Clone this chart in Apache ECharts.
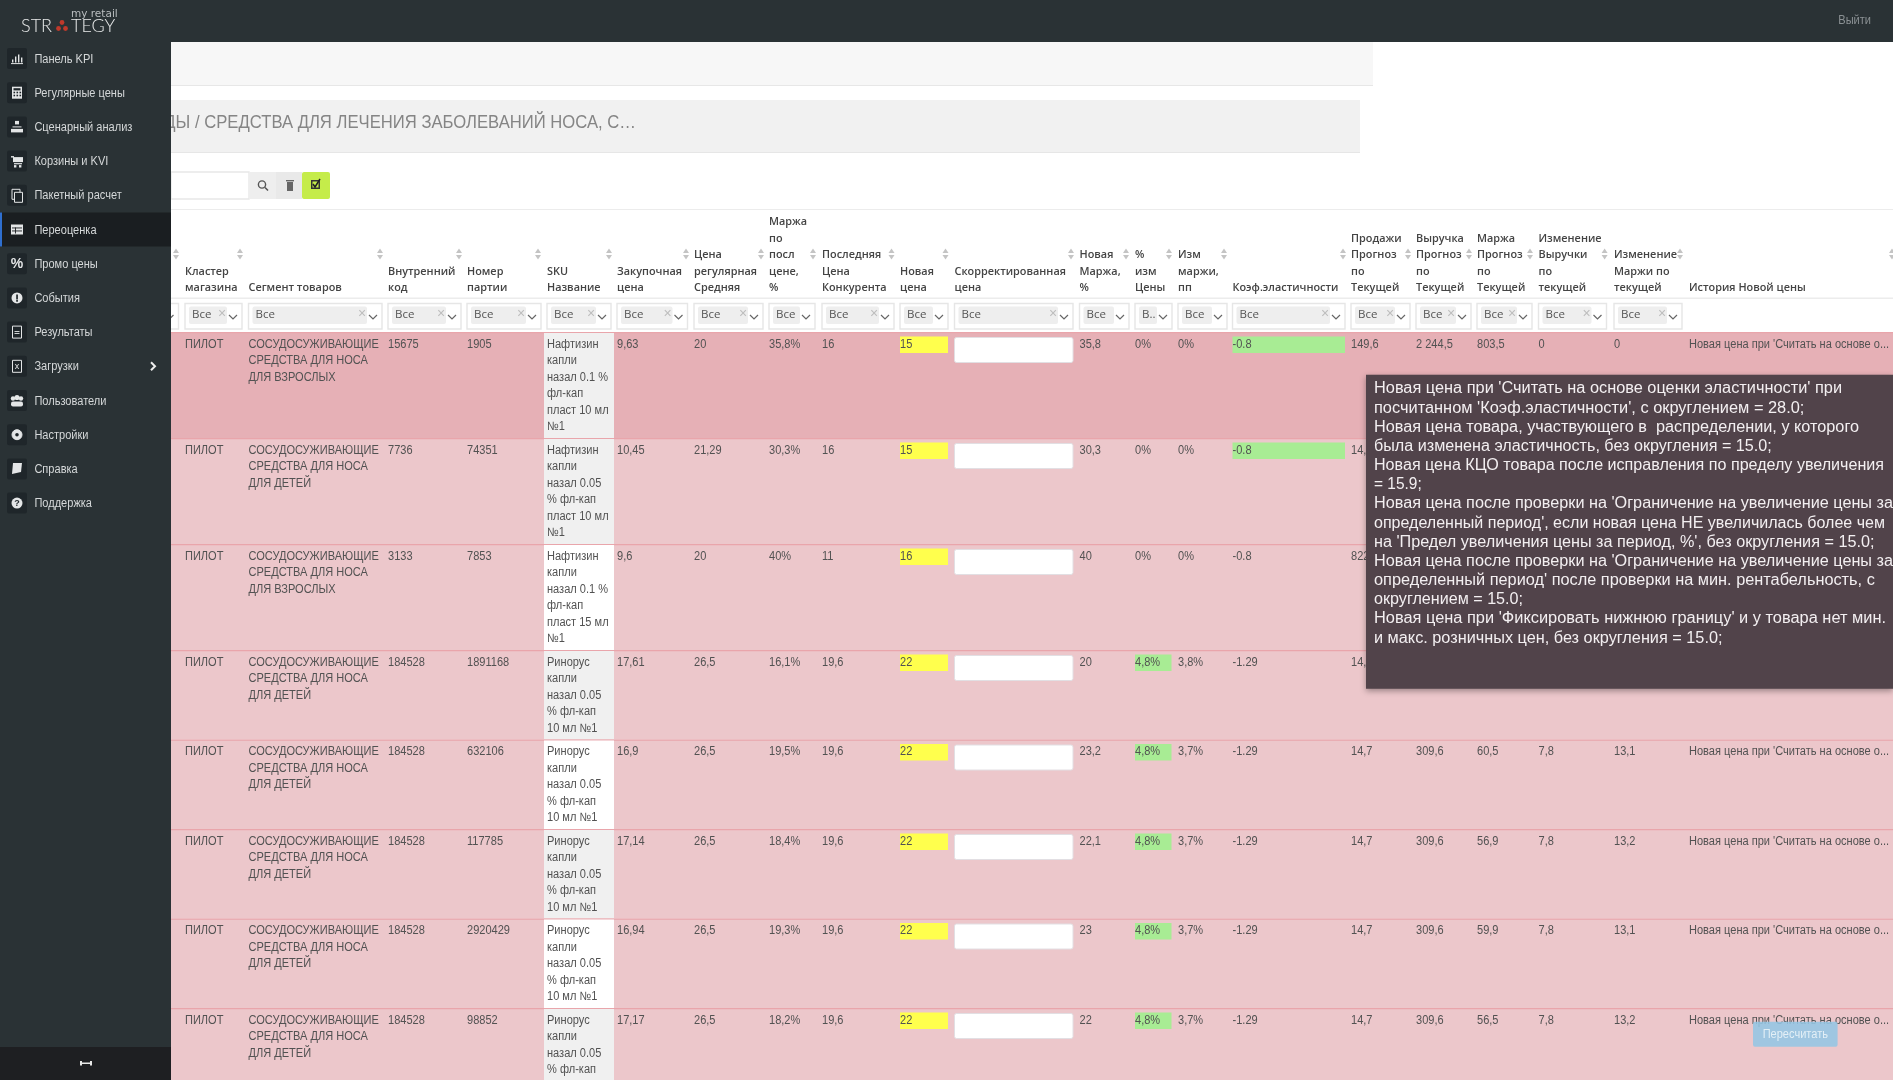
<!DOCTYPE html>
<html><head><meta charset="utf-8">
<style>html,body{margin:0;padding:0;background:#fff;overflow:hidden}#c{width:1893px;height:1080px}</style>
<script src="https://cdn.jsdelivr.net/npm/echarts@6/dist/echarts.min.js"></script>
</head><body><div id="c"></div>
<script>
// ---- table content ----
const cluster = ['ПИЛОТ','ПИЛОТ','ПИЛОТ','ПИЛОТ','ПИЛОТ','ПИЛОТ','ПИЛОТ','ПИЛОТ'];
const segKids = 'СОСУДОСУЖИВАЮЩИЕ\nСРЕДСТВА ДЛЯ НОСА\nДЛЯ ДЕТЕЙ';
const segAdult = 'СОСУДОСУЖИВАЮЩИЕ\nСРЕДСТВА ДЛЯ НОСА\nДЛЯ ВЗРОСЛЫХ';
const segment = [segAdult,segKids,segAdult,segKids,segKids,segKids,segKids,segKids];
const internalCode = ['15675','7736','3133','184528','184528','184528','184528','184528'];
const batchNo = ['1905','74351','7853','1891168','632106','117785','2920429','98852'];
const rinorus = 'Ринорус\nкапли\nназал 0.05\n% фл-кап\n10 мл №1';
const skuName = ['Нафтизин\nкапли\nназал 0.1 %\nфл-кап\nпласт 10 мл\n№1','Нафтизин\nкапли\nназал 0.05\n% фл-кап\nпласт 10 мл\n№1','Нафтизин\nкапли\nназал 0.1 %\nфл-кап\nпласт 15 мл\n№1',rinorus,rinorus,rinorus,rinorus,rinorus];
const purchasePrice = ['9,63','10,45','9,6','17,61','16,9','17,14','16,94','17,17'];
const regularPrice = ['20','21,29','20','26,5','26,5','26,5','26,5','26,5'];
const lastMargin = ['35,8%','30,3%','40%','16,1%','19,5%','18,4%','19,3%','18,2%'];
const competitorPrice = ['16','16','11','19,6','19,6','19,6','19,6','19,6'];
const newPrice = ['15','15','16','22','22','22','22','22'];
const newMargin = ['35,8','30,3','40','20','23,2','22,1','23','22'];
const priceChange = ['0%','0%','0%','4,8%','4,8%','4,8%','4,8%','4,8%'];
const marginChange = ['0%','0%','0%','3,8%','3,7%','3,7%','3,7%','3,7%'];
const elasticity = ['-0.8','-0.8','-0.8','-1.29','-1.29','-1.29','-1.29','-1.29'];
const salesForecast = ['149,6','14,7','822,5','14,7','14,7','14,7','14,7','14,7'];
const revenueForecast = ['2 244,5','','','','309,6','309,6','309,6','309,6'];
const marginForecast = ['803,5','','','','60,5','56,9','59,9','56,5'];
const revenueDelta = ['0','','','','7,8','7,8','7,8','7,8'];
const marginDelta = ['0','','','','13,1','13,2','13,1','13,2'];
const historyText = "Новая цена при 'Считать на основе о...";
const history = [historyText,'','','',historyText,historyText,historyText,historyText];
const skuLines = [6,6,6,5,5,5,5,5];
const skuShaded = [1,1,0,1,0,1,0,1];
const elasticGreen = [1,1,0,0,0,0,0,0];
const priceGreen = [0,0,0,1,1,1,1,1];
const headers = ['','Кластер\nмагазина','Сегмент товаров','Внутренний\nкод','Номер\nпартии','SKU\nНазвание','Закупочная\nцена','Цена\nрегулярная\nСредняя','Маржа\nпо\nпосл\nцене,\n%','Последняя\nЦена\nКонкурента','Новая\nцена','Скорректированная\nцена','Новая\nМаржа,\n%','%\nизм\nЦены','Изм\nмаржи,\nпп','Коэф.эластичности','Продажи\nПрогноз\nпо\nТекущей','Выручка\nПрогноз\nпо\nТекущей','Маржа\nПрогноз\nпо\nТекущей','Изменение\nВыручки\nпо\nтекущей','Изменение\nМаржи по\nтекущей','История Новой цены'];
const filterLabels = ['','Все','Все','Все','Все','Все','Все','Все','Все','Все','Все','Все','Все','В..','Все','Все','Все','Все','Все','Все','Все',''];
const menu = ['Панель KPI','Регулярные цены','Сценарный анализ','Корзины и KVI','Пакетный расчет','Переоценка','Промо цены','События','Результаты','Загрузки','Пользователи','Настройки','Справка','Поддержка'];
const tooltipLines = ["Новая цена при 'Считать на основе оценки эластичности' при","посчитанном 'Коэф.эластичности', с округлением = 28.0;","Новая цена товара, участвующего в  распределении, у которого","была изменена эластичность, без округления = 15.0;","Новая цена КЦО товара после исправления по пределу увеличения","= 15.9;","Новая цена после проверки на 'Ограничение на увеличение цены за","определенный период', если новая цена НЕ увеличилась более чем","на 'Предел увеличения цены за период, %', без округления = 15.0;","Новая цена после проверки на 'Ограничение на увеличение цены за","определенный период' после проверки на мин. рентабельность, с","округлением = 15.0;","Новая цена при 'Фиксировать нижнюю границу' и у товара нет мин.","и макс. розничных цен, без округления = 15.0;"];
const breadcrumb = 'ДЫ / СРЕДСТВА ДЛЯ ЛЕЧЕНИЯ ЗАБОЛЕВАНИЙ НОСА, С…';

// ---- layout ----
const tooltipWidths = [468,430.4,485,397.7,510,47.7,519,511,500.4,519,500.8,149,512,348.5];
const colLeft  = [150,185,248.5,388,467,547,617,694,769,822,900,954.5,1079.5,1135,1178,1232.5,1351,1416,1477,1538.5,1614,1689];
const colRight = [178.5,242,382,461,541,611,687.5,763,815,894,948,1073,1129,1172,1227,1345,1410,1471,1532,1606.5,1682,1893];
const sortX = [176,240,380,459,538,609,686,761,813,891.5,945.5,1071,1126,1169,1224,1343,1408,1469,1530,1604.6,1680,1892];
const rowTop = []; { let t = 332; skuLines.forEach(n => { rowTop.push(t); t += n * 16.5 + 7; }); }
const rowH = skuLines.map(n => n * 16.5 + 7);
const textColumns = [[1,cluster],[2,segment],[3,internalCode],[4,batchNo],[5,skuName],[6,purchasePrice],[7,regularPrice],[8,lastMargin],[9,competitorPrice],[10,newPrice],[12,newMargin],[13,priceChange],[14,marginChange],[15,elasticity],[16,salesForecast],[17,revenueForecast],[18,marginForecast],[19,revenueDelta],[20,marginDelta],[21,history]];
const FONT = '"Liberation Sans",Arial,sans-serif';
const cellFont = '12px ' + FONT, headFont = '600 11.5px "Open Sans",' + FONT;
const SIDE = 171;

// row bands + cell fills
const rowSeries = {type:'custom',coordinateSystem:'cartesian2d',z:2,silent:true,clip:false,encode:{x:0,y:1},
 data:rowTop.map((t,i)=>[0,i]),
 renderItem(p,api){
  const r=api.value(1), c=[];
  const R=(a,b,x2,y2,fill,extra)=>{const A=api.coord([a,b]),B=api.coord([x2,y2]);c.push(Object.assign({type:'rect',shape:{x:A[0],y:A[1],width:B[0]-A[0],height:B[1]-A[1],r:(extra&&extra.r)||0},style:{fill,stroke:extra&&extra.stroke,lineWidth:extra&&extra.lw}}));};
  const t=rowTop[r],h=rowH[r];
  R(0,t,1893,t+h,r===0?'#e6b0b6':'#ecc7cb');
  R(0,t,1893,t+1.2,'#e9a5ab');
  R(544,t+1,614,t+h,skuShaded[r]?'#f0f0f0':'#ffffff');
  R(colLeft[10],t+4.5,colRight[10],t+21,'#ffff4d');
  R(colLeft[11],t+5.5,colRight[11],t+30.5,'#ffffff',{r:2,stroke:'#e2dfe3',lw:1});
  if(elasticGreen[r])R(colLeft[15],t+4.5,colRight[15],t+21,'#a8ec94');
  if(priceGreen[r])R(colLeft[13],t+4.5,1171.5,t+21,'#a8ec94');
  return {type:'group',children:c};
 }};

// cell texts
const cellData=[];textColumns.forEach(([c,v])=>v.forEach((s,r)=>{if(s)cellData.push([c,r,s]);}));
const cellSeries = {type:'custom',coordinateSystem:'cartesian2d',z:3,silent:true,clip:false,encode:{x:0,y:1},
 data:cellData,
 renderItem(p,api){
  const c=api.value(0),r=api.value(1);
  const P=api.coord([colLeft[c],rowTop[r]+4.3]);
  return {type:'text',x:P[0],y:P[1],scaleX:0.92,style:{x:0,y:0,text:cellData[p.dataIndex][2],font:cellFont,fill:'#525252',align:'left',verticalAlign:'top',lineHeight:16.5}};
 }};

// header + filter row
const headSeries = {type:'custom',coordinateSystem:'cartesian2d',z:3,silent:true,clip:false,encode:{x:0,y:1},
 data:headers.map((h,i)=>[i,0]),
 renderItem(p,api){
  const i=api.value(0),c=[];
  const L=colLeft[i],Rr=colRight[i],lines=headers[i]?headers[i].split('\n'):[];
  lines.forEach((s,k)=>{const P=api.coord([L,288-(lines.length-1-k)*16.5]);c.push({type:'text',x:P[0],y:P[1],scaleX:0.945,style:{x:0,y:0,text:s,font:headFont,fill:'#444',align:'left',verticalAlign:'middle'}});});
  const S=api.coord([sortX[i],254]);
  c.push({type:'polygon',shape:{points:[[S[0]-3,S[1]-1],[S[0]+3,S[1]-1],[S[0],S[1]-5.5]]},style:{fill:'#c4c4c4'}});
  c.push({type:'polygon',shape:{points:[[S[0]-3,S[1]+1],[S[0]+3,S[1]+1],[S[0],S[1]+5.5]]},style:{fill:'#c4c4c4'}});
  if(filterLabels[i]||i===0){
   const A=api.coord([L,303.5]),B=api.coord([Rr,329]);
   c.push({type:'rect',shape:{x:A[0],y:A[1],width:B[0]-A[0],height:B[1]-A[1]},style:{fill:'#fff',stroke:'#e6e6e6',lineWidth:1.4}});
   c.push({type:'rect',shape:{x:A[0]+4,y:A[1]+3,width:B[0]-A[0]-19,height:17.5,r:2},style:{fill:'#eeeeee'}});
   c.push({type:'text',style:{x:A[0]+7,y:A[1]+11,text:filterLabels[i],font:'11.5px "Open Sans",'+FONT,fill:'#555',align:'left',verticalAlign:'middle'}});
   if(B[0]-A[0]>=55)c.push({type:'text',style:{x:B[0]-20,y:A[1]+10.5,text:'×',font:'14px '+FONT,fill:'#bdbdbd',align:'center',verticalAlign:'middle'}});
   c.push({type:'polyline',shape:{points:[[B[0]-13,A[1]+11.5],[B[0]-9,A[1]+15.5],[B[0]-5,A[1]+11.5]]},style:{fill:'none',stroke:'#666',lineWidth:1.2}});
  }
  return {type:'group',children:c};
 }};

// ---- page chrome ----
const back=[],front=[];
const rect=(a,x,y,w,h,fill,extra)=>a.push({type:'rect',shape:{x,y,width:w,height:h,r:(extra&&extra.r)||0},style:Object.assign({fill},extra&&extra.style||{}),z:a===front?50:0,silent:true});
const text=(a,x,y,t,font,fill,align,sx)=>a.push({type:'text',x,y,scaleX:sx||1,style:{x:0,y:0,text:t,font,fill,align:align||'left',verticalAlign:'middle'},z:a===front?51:1,silent:true});
rect(back,171,42,1202,43,'#f7f7f7');rect(back,171,85,1202,1,'#e7e7e7');
rect(back,171,100,1189,52,'#f1f1f1');rect(back,171,152,1189,1,'#e6e6e6');
text(back,636,123,breadcrumb,'18px '+FONT,'#858585','right',0.925);
rect(back,171,172,78,27,'#fff',{style:{stroke:'#e8e8e8',lineWidth:1.4}});
rect(back,249,172,27,27,'#eeeeee');rect(back,276,172,26,27,'#e9e9e9');rect(back,302,172,28,27,'#c5ec4a',{r:2});
rect(back,171,209,1722,1,'#ececec');rect(back,171,297.5,1722,1.6,'#ececec');
back.push({type:'circle',shape:{cx:262,cy:184.5,r:3.6},style:{fill:'none',stroke:'#555',lineWidth:1.4},silent:true});
back.push({type:'line',shape:{x1:265,y1:187.5,x2:268,y2:190.5},style:{stroke:'#555',lineWidth:1.6},silent:true});
rect(back,287,182,6,9,'#666');rect(back,286,180,8,1.4,'#666');
rect(back,311,180,9,9,'#333');rect(back,312.5,181.5,6,6,'#c5ec4a');
back.push({type:'polyline',shape:{points:[[313,184],[315,187],[320,179]]},style:{fill:'none',stroke:'#222',lineWidth:1.5},silent:true});

// sidebar
rect(front,0,0,1893,42,'#2a3235');rect(front,0,42,SIDE,1005,'#2a3235');rect(front,0,1047,SIDE,33,'#1e1f22');
menu.forEach((m,i)=>{const y=58.5+i*34.2;
 if(i===5){rect(front,0,y-17.1,SIDE,34.2,'#1a1e21');rect(front,0,y-17.1,2,34.2,'#2f6fd0');}
 rect(front,7,y-10.5,20,21,i===5?'#1a1e21':'#1f262a',{r:2});
 text(front,34.4,y+.7,m,'12px '+FONT,'#d5d8d9','left',0.92);
});
const iconY=i=>58.5+i*34.2, W='#e4e6e7';
[[ -5,2,1.4,3],[-2,-1,1.4,6],[1,-3,1.4,8],[4,0,1.4,5]].forEach(b=>rect(front,17+b[0],iconY(0)+b[1]-1,b[2],b[3],W));rect(front,11,iconY(0)+4.6,12,1,W);
rect(front,12,iconY(1)-6,10,12,W);rect(front,13.5,iconY(1)-4.5,7,2.2,'#1f262a');[0,3,6].forEach(a=>[0,3].forEach(b=>rect(front,13.5+a,iconY(1)-1+b,1.6,1.6,'#1f262a')));
rect(front,15,iconY(2)-6,4,3.5,W);rect(front,11,iconY(2)+2,4,3.5,W);rect(front,15,iconY(2)+2,4,3.5,W);rect(front,19,iconY(2)+2,4,3.5,W);rect(front,12.5,iconY(2)-.5,9,1,W);
rect(front,11,iconY(3)-5,3,1.4,W);rect(front,13,iconY(3)-4,10,5,W);rect(front,14,iconY(3)+2,8,1.2,W);rect(front,14,iconY(3)+4,2.4,2.4,W);rect(front,19,iconY(3)+4,2.4,2.4,W);
front.push({type:'rect',shape:{x:12,y:iconY(4)-6,width:8,height:10},style:{fill:'none',stroke:W,lineWidth:1},z:52,silent:true});front.push({type:'rect',shape:{x:14.5,y:iconY(4)-3,width:8,height:10},style:{fill:'#1f262a',stroke:W,lineWidth:1},z:52,silent:true});
rect(front,11,iconY(5)-5,12,10,W);rect(front,12,iconY(5)-2,10,.9,'#1a1e21');rect(front,12,iconY(5)+1,10,.9,'#1a1e21');rect(front,15,iconY(5)-2,.9,6,'#1a1e21');
text(front,17,iconY(6),'%','bold 14px '+FONT,W,'center');
front.push({type:'circle',shape:{cx:17,cy:iconY(7),r:5.5},style:{fill:W},z:52,silent:true});
front.push({type:'rect',shape:{x:16.2,y:iconY(7)-3.5,width:1.7,height:5},style:{fill:'#1f262a'},z:53,silent:true});front.push({type:'rect',shape:{x:16.2,y:iconY(7)+2.2,width:1.7,height:1.6},style:{fill:'#1f262a'},z:53,silent:true});
[8,9].forEach(i=>{front.push({type:'rect',shape:{x:12.5,y:iconY(i)-6,width:9,height:12},style:{fill:'none',stroke:W,lineWidth:1},z:52,silent:true});});
rect(front,14.5,iconY(8)-1,5,.9,W);rect(front,14.5,iconY(8)+1,5,.9,W);text(front,17,iconY(9)+.5,'x','9px '+FONT,W,'center');
[[13,-2,2.2],[21,-2,2.2],[17,-3,2.6]].forEach(b=>front.push({type:'circle',shape:{cx:b[0],cy:iconY(10)+b[1],r:b[2]},style:{fill:W},z:52,silent:true}));rect(front,11,iconY(10)+1,12,5,W,{r:2});
front.push({type:'circle',shape:{cx:17,cy:iconY(11),r:5},style:{fill:W,stroke:W},z:52,silent:true});front.push({type:'circle',shape:{cx:17,cy:iconY(11),r:1.8},style:{fill:'#1f262a'},z:53,silent:true});
front.push({type:'polygon',shape:{points:[[13,iconY(12)-6],[22,iconY(12)-6],[21,iconY(12)+3],[12,iconY(12)+5]]},style:{fill:W},z:52,silent:true});
front.push({type:'circle',shape:{cx:17,cy:iconY(13),r:5.5},style:{fill:W},z:52,silent:true});
front.push({type:'text',x:17,y:iconY(13)+.5,style:{x:0,y:0,text:'?',font:'bold 9px '+FONT,fill:'#1f262a',align:'center',verticalAlign:'middle'},z:53,silent:true});
front.push({type:'polyline',shape:{points:[[151,iconY(9)-4],[155,iconY(9)],[151,iconY(9)+4]]},style:{fill:'none',stroke:'#eee',lineWidth:2},z:52,silent:true});
// logo
text(front,71,14.5,'my retail','10.5px "DejaVu Sans"','#b9bdbf');
text(front,21,26.5,'STR','300 18px Lato,'+FONT,'#e8eaea');text(front,71,26.5,'TEGY','300 18px Lato,'+FONT,'#e8eaea');
[[62,22.5],[58.5,28.5],[65.5,28.5]].forEach(d=>front.push({type:'circle',shape:{cx:d[0],cy:d[1],r:2.4},style:{fill:'#c0392b'},z:52,silent:true}));
text(front,1871,20.5,'Выйти','12px '+FONT,'#8b9194','right',0.92);
rect(front,80,1062.5,12,1.5,'#e8e8e8');rect(front,80,1061,2,4.5,'#e8e8e8');rect(front,90,1061,2,4.5,'#e8e8e8');
// tooltip
rect(front,1366,374.7,527,314,'#51434a',{style:{shadowBlur:6,shadowColor:'rgba(0,0,0,0.35)',shadowOffsetY:2}});
const mctx=document.createElement('canvas').getContext('2d');mctx.font='16px "Liberation Sans"';
tooltipLines.forEach((s,i)=>text(front,1374,389+i*19.17,s,'16px '+FONT,'#f3eff1','left',tooltipWidths[i]/mctx.measureText(s).width));
// recalc button
rect(front,1753,1021.7,84.6,25,'rgba(148,198,228,0.88)',{r:2});
text(front,1795.3,1034.2,'Пересчитать','12px '+FONT,'#e3eff6','center',0.92);

const chart=echarts.init(document.getElementById('c'),null,{renderer:'canvas'});
chart.setOption({animation:false,backgroundColor:'#fff',tooltip:{show:false},
 grid:{left:0,right:0,top:0,bottom:0,containLabel:false},
 xAxis:{type:'value',min:0,max:1893,show:false},
 yAxis:{type:'value',min:0,max:1080,inverse:true,show:false},
 graphic:{elements:back.concat(front)},
 series:[rowSeries,cellSeries,headSeries]});
</script></body></html>
